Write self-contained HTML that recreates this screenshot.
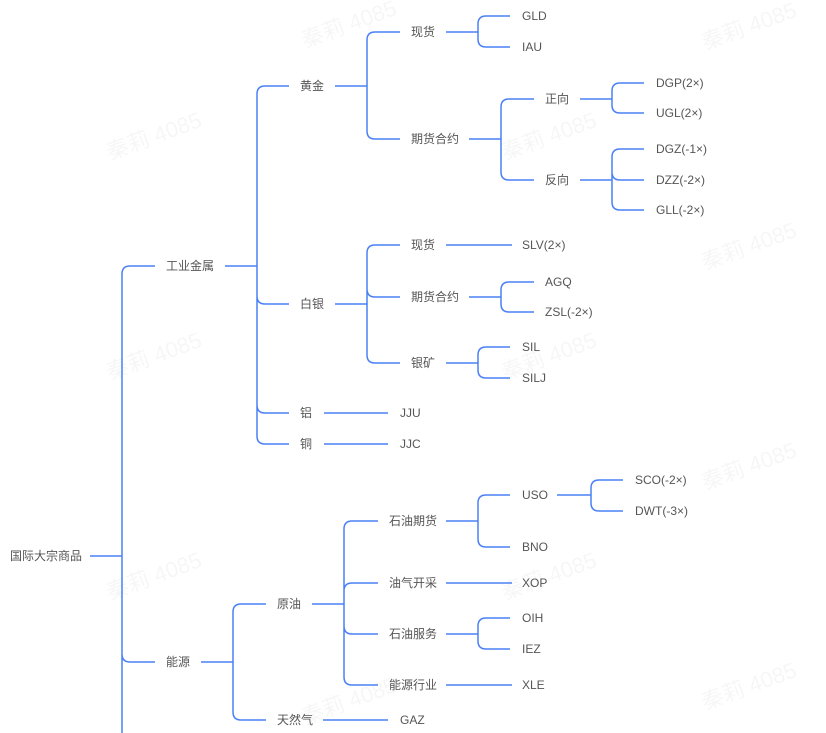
<!DOCTYPE html>
<html><head><meta charset="utf-8"><style>
html,body{margin:0;padding:0;background:#fff;}
svg{display:block;}
text{font-family:"Liberation Sans","Noto Sans CJK SC",sans-serif;font-size:12px;fill:#555;}
.w{font-size:22px;fill:#000;opacity:0.03;}
path{fill:none;stroke:#4a80f5;stroke-width:1.5;}
</style></head><body>
<svg width="826" height="733" viewBox="0 0 826 733" xmlns="http://www.w3.org/2000/svg">
<g>
<text class="w" transform="translate(110,160) rotate(-20)">秦莉 4085</text>
<text class="w" transform="translate(505,160) rotate(-20)">秦莉 4085</text>
<text class="w" transform="translate(705,270) rotate(-20)">秦莉 4085</text>
<text class="w" transform="translate(110,380) rotate(-20)">秦莉 4085</text>
<text class="w" transform="translate(505,380) rotate(-20)">秦莉 4085</text>
<text class="w" transform="translate(705,490) rotate(-20)">秦莉 4085</text>
<text class="w" transform="translate(110,600) rotate(-20)">秦莉 4085</text>
<text class="w" transform="translate(505,600) rotate(-20)">秦莉 4085</text>
<text class="w" transform="translate(705,50) rotate(-20)">秦莉 4085</text>
<text class="w" transform="translate(705,710) rotate(-20)">秦莉 4085</text>
<text class="w" transform="translate(305,725) rotate(-20)">秦莉 4085</text>
<text class="w" transform="translate(305,48) rotate(-20)">秦莉 4085</text>
</g>
<path d="M90 556H122M122 274V740M122 274Q122 266 130 266H155M122 654Q122 662 130 662H155"/>
<path d="M225 266H257M257 94V436M257 94Q257 86 265 86H289M257 296Q257 304 265 304H289M257 405Q257 413 265 413H289M257 436Q257 444 265 444H289"/>
<path d="M335 86H367M367 40V131M367 40Q367 32 375 32H400M367 131Q367 139 375 139H400"/>
<path d="M446 32H478M478 24V39M478 24Q478 16 486 16H510M478 39Q478 47 486 47H510"/>
<path d="M469 139H501M501 107V172M501 107Q501 99 509 99H534M501 172Q501 180 509 180H534"/>
<path d="M580 99H612M612 91V105M612 91Q612 83 620 83H644M612 105Q612 113 620 113H644"/>
<path d="M580 180H612M612 157V202M612 157Q612 149 620 149H644M612 172Q612 180 620 180H644M612 202Q612 210 620 210H644"/>
<path d="M335 304H367M367 253V355M367 253Q367 245 375 245H400M367 289Q367 297 375 297H400M367 355Q367 363 375 363H400"/>
<path d="M446 245H512"/>
<path d="M469 297H501M501 290V304M501 290Q501 282 509 282H534M501 304Q501 312 509 312H534"/>
<path d="M446 363H478M478 355V370M478 355Q478 347 486 347H510M478 370Q478 378 486 378H510"/>
<path d="M324 413H388M324 444H388"/>
<path d="M201 662H233M233 612V712M233 612Q233 604 241 604H266M233 712Q233 720 241 720H266"/>
<path d="M323 720H388"/>
<path d="M312 604H344M344 529V677M344 529Q344 521 352 521H378M344 591Q344 583 352 583H378M344 626Q344 634 352 634H378M344 677Q344 685 352 685H378"/>
<path d="M446 521H478M478 503V539M478 503Q478 495 486 495H510M478 539Q478 547 486 547H510"/>
<path d="M557 495H591M591 488V503M591 488Q591 480 599 480H623M591 503Q591 511 599 511H623"/>
<path d="M446 583H512M446 685H512"/>
<path d="M446 634H478M478 626V641M478 626Q478 618 486 618H510M478 641Q478 649 486 649H510"/>

<text x="10" y="560">国际大宗商品</text>
<text x="166" y="270">工业金属</text>
<text x="166" y="666">能源</text>
<text x="300" y="90">黄金</text>
<text x="300" y="308">白银</text>
<text x="300" y="417">铝</text>
<text x="300" y="448">铜</text>
<text x="411" y="36">现货</text>
<text x="411" y="143">期货合约</text>
<text x="522" y="20">GLD</text>
<text x="522" y="51">IAU</text>
<text x="545" y="103">正向</text>
<text x="545" y="184">反向</text>
<text x="656" y="87">DGP(2×)</text>
<text x="656" y="117">UGL(2×)</text>
<text x="656" y="153">DGZ(-1×)</text>
<text x="656" y="184">DZZ(-2×)</text>
<text x="656" y="214">GLL(-2×)</text>
<text x="411" y="249">现货</text>
<text x="411" y="301">期货合约</text>
<text x="411" y="367">银矿</text>
<text x="522" y="249">SLV(2×)</text>
<text x="545" y="286">AGQ</text>
<text x="545" y="316">ZSL(-2×)</text>
<text x="522" y="351">SIL</text>
<text x="522" y="382">SILJ</text>
<text x="400" y="417">JJU</text>
<text x="400" y="448">JJC</text>
<text x="277" y="608">原油</text>
<text x="277" y="724">天然气</text>
<text x="400" y="724">GAZ</text>
<text x="389" y="525">石油期货</text>
<text x="389" y="587">油气开采</text>
<text x="389" y="638">石油服务</text>
<text x="389" y="689">能源行业</text>
<text x="522" y="499">USO</text>
<text x="522" y="551">BNO</text>
<text x="635" y="484">SCO(-2×)</text>
<text x="635" y="515">DWT(-3×)</text>
<text x="522" y="587">XOP</text>
<text x="522" y="622">OIH</text>
<text x="522" y="653">IEZ</text>
<text x="522" y="689">XLE</text>
</svg>
</body></html>
